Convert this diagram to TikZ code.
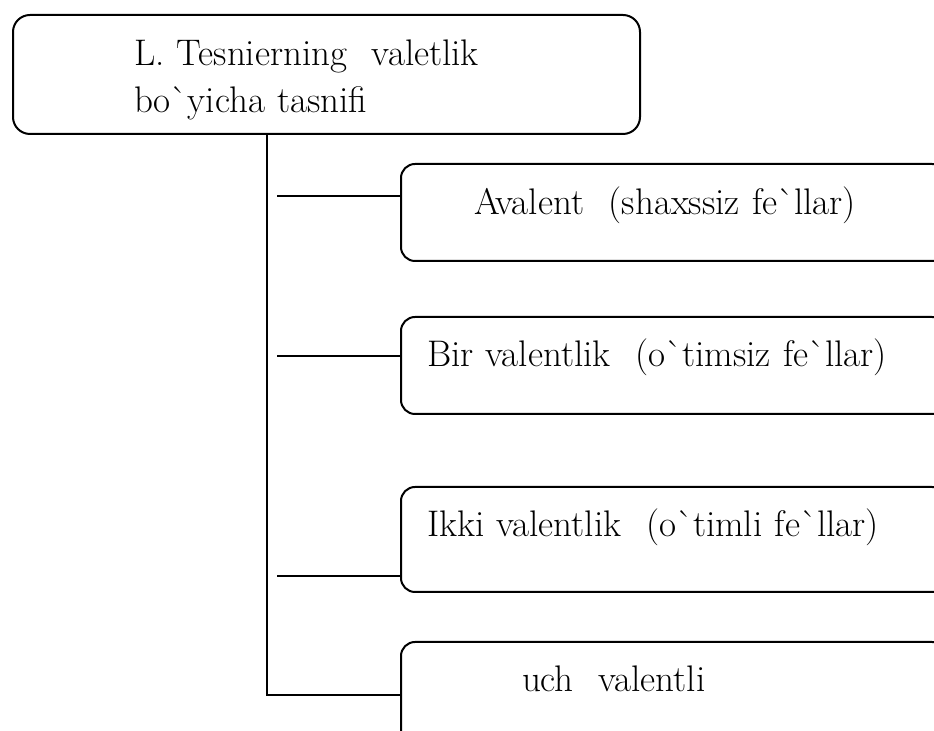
\documentclass[tikz,border=0pt]{standalone}
\usetikzlibrary{positioning}
\newcommand{\gr}{\textasciigrave}

\begin{document}
\begin{tikzpicture}[line width=1pt,
    box/.style={rectangle, rounded corners=7pt, draw=black, inner ysep=0pt, inner xsep=13pt, text width=246.5pt, align=left, font=\fontsize{18.5}{23.5}\selectfont},
    headbox/.style={box, rounded corners=8.5pt, inner xsep=60.5pt, text width=192.5pt} ]

    \useasboundingbox (0,0) rectangle (467pt,-365.5pt);

    %Nodes
    \node[headbox, anchor=north west, text height=25.5pt, text depth=34pt] (tesnier) at (6pt,-7pt) {L. Tesnierning\ \ valetlik\\bo\gr yicha tasnifi};
    \node[box, below right=14pt and 194pt of tesnier.south west, text height=25.5pt, text depth=23pt] (avalent) {\hspace*{23.5pt}Avalent\ \ (shaxssiz fe\gr llar)};
    \node[box, below=27pt of avalent, text height=25pt, text depth=23.5pt] (bir) {Bir valentlik\ \ (o\gr timsiz fe\gr llar)};
    \node[box, below=35.5pt of bir, text height=25pt, text depth=27.5pt] (ikki) {Ikki valentlik\ \ (o\gr timli fe\gr llar)};
    \node[box, below=24pt of ikki, text height=25pt, text depth=26.5pt] (uch) {\hspace*{47.5pt}uch\ \ valentli};
    \coordinate (trunk) at ([xshift=127.5pt]tesnier.south west);

    %Lines
    \draw ([yshift=-16.5pt]avalent.north west) -- ++(-61.5pt,0);
    \draw ([yshift=-20pt]bir.north west) -- ++(-61.5pt,0);
    \draw ([yshift=-45pt]ikki.north west) -- ++(-61.5pt,0);
    \draw (trunk) |- ([yshift=-27pt]uch.north west);
\end{tikzpicture}
\end{document}
